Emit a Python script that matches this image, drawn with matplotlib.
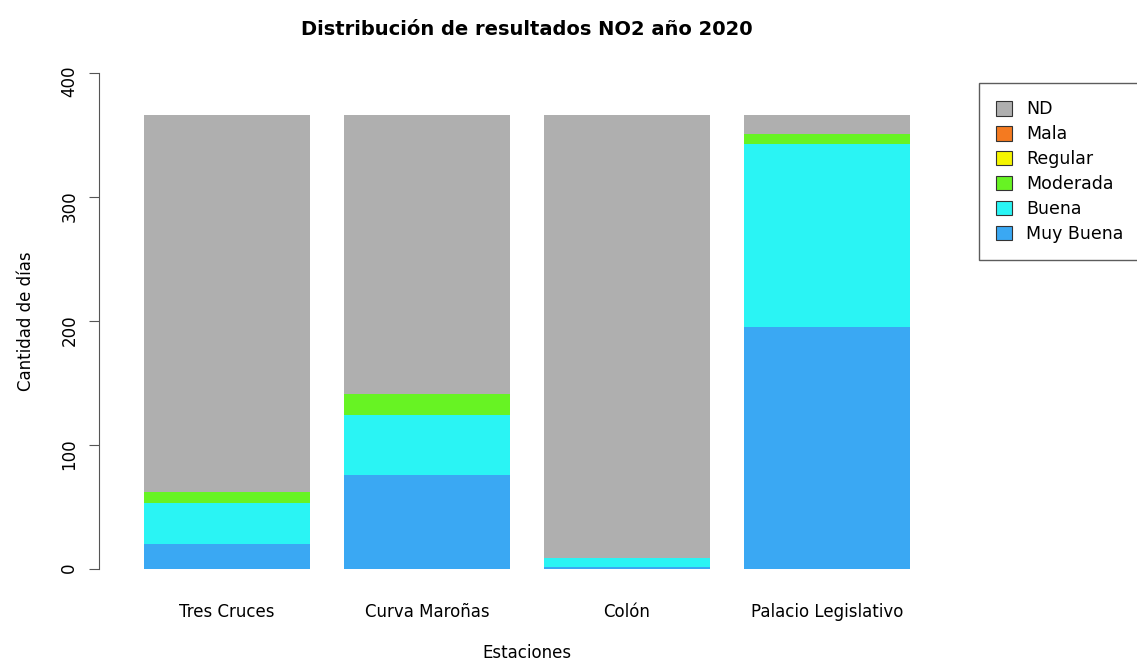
import numpy as np
import matplotlib
matplotlib.use('Agg')
import matplotlib.pyplot as plt
from matplotlib.patches import Patch

# datos (dias por categoria, 2020 = 366 dias)
estaciones = ['Tres Cruces', 'Curva Maroñas', 'Colón', 'Palacio Legislativo']
muy_buena = [20, 76, 2, 195]
buena = [33, 48, 7, 148]
moderada = [9, 17, 0, 8]
regular = [0, 0, 0, 0]
mala = [0, 0, 0, 0]
nd = [304, 225, 357, 15]

categorias = ['Muy Buena', 'Buena', 'Moderada', 'Regular', 'Mala', 'ND']
colores = ['#3AA8F3', '#2AF4F4', '#67F323', '#F5F500', '#F47A20', '#AFAFAF']
series = [muy_buena, buena, moderada, regular, mala, nd]

fig = plt.figure(figsize=(11.37, 6.64), dpi=100)
ax = fig.add_axes([0.0994, 0.113, 0.7282, 0.807])

x = np.arange(len(estaciones)) * 1.2 + 0.7
bottom = np.zeros(len(estaciones))
for vals, col, lab in zip(series, colores, categorias):
    ax.bar(x, vals, width=1.0, bottom=bottom, color=col, label=lab, linewidth=0)
    bottom += np.array(vals)

ax.set_xlim(0.016, 4.984)
ax.set_ylim(-16, 416)
ax.set_xticks(x)
ax.set_xticklabels(estaciones)
ax.tick_params(axis='x', length=0, pad=10, labelsize=12)
ax.set_yticks([0, 100, 200, 300, 400])
ax.tick_params(axis='y', length=7, pad=8, color='#555555', labelsize=12,
               labelrotation=90)
for t in ax.get_yticklabels():
    t.set_verticalalignment('center')

for s in ['top', 'right', 'bottom']:
    ax.spines[s].set_visible(False)
ax.spines['left'].set_bounds(0, 400)
ax.spines['left'].set_position(('outward', 10))
ax.spines['left'].set_color('#555555')

ax.set_ylabel('Cantidad de días', fontsize=12, labelpad=18)
ax.set_xlabel('Estaciones', fontsize=12, labelpad=17)
ax.set_title('Distribución de resultados NO2 año 2020', fontsize=14, fontweight='bold', pad=13)

handles = [Patch(facecolor=c, edgecolor='#333333', linewidth=0.8, label=l)
           for c, l in zip(colores[::-1], categorias[::-1])]
fig.legend(handles=handles, loc='upper left', bbox_to_anchor=(0.861, 0.875),
           fontsize=12.5, frameon=True, fancybox=False, edgecolor='#333333',
           handlelength=0.9, handleheight=0.9, labelspacing=0.4, borderpad=1.0,
           handletextpad=0.8, borderaxespad=0)

fig.savefig('out.png', dpi=100)
